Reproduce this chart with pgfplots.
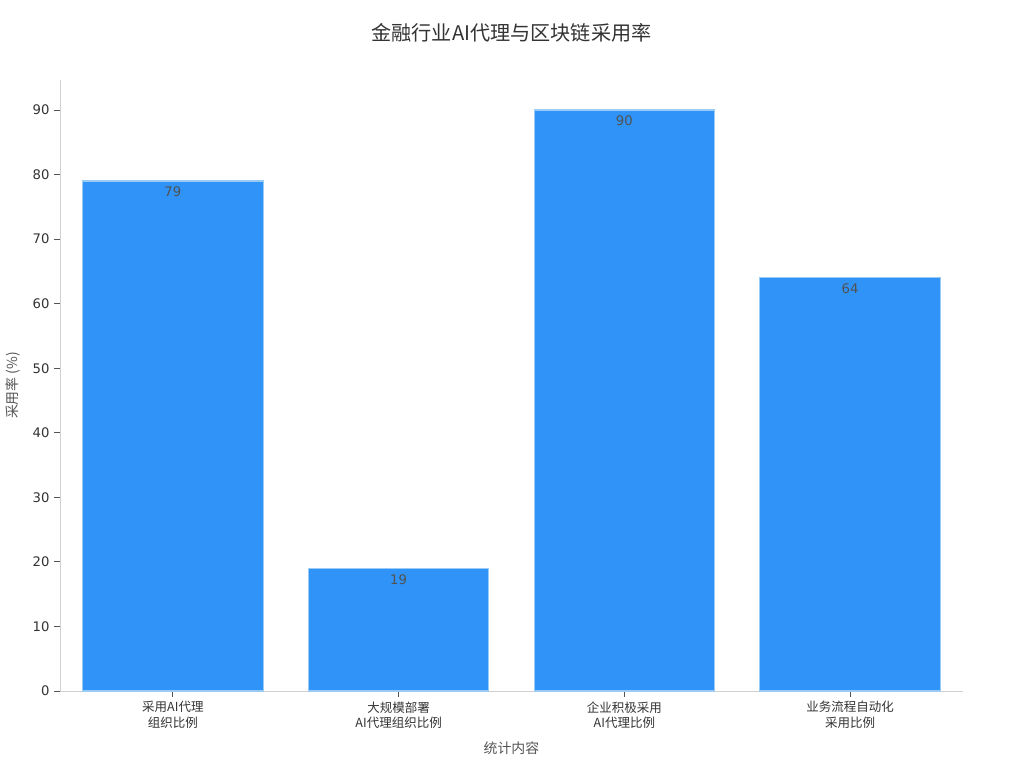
\documentclass[border=0pt]{standalone}
\usepackage{pgfplots}
\pgfplotsset{compat=1.18}
\usepackage{fontspec}
\setmainfont{DejaVu Sans}
\newfontfamily\cjk{Noto Sans CJK SC}
\definecolor{barblue}{HTML}{2F93F8}
\definecolor{baredge}{HTML}{9ACBF7}
\definecolor{axisgray}{HTML}{D0D0D0}
\definecolor{txt}{HTML}{333333}
\definecolor{lbl}{HTML}{555555}
\begin{document}
\begin{tikzpicture}
\path[use as bounding box] (0,0) rectangle (737.28pt,552.96pt);
\begin{axis}[
  at={(43.2pt,55.44pt)}, anchor=south west,
  scale only axis, width=650.16pt, height=439.92pt,
  xmin=-0.5, xmax=3.5, ymin=0, ymax=94.65,
  ybar, bar width=0.8, bar shift=0pt,
  axis x line*=bottom, axis y line*=left,
  axis line style={axisgray, line width=0.7pt},
  x axis line style={-}, y axis line style={-},
  xtick={0,1,2,3},
  xticklabels={{\cjk 采用AI代理\\\cjk 组织比例},{\cjk 大规模部署\\\cjk AI代理组织比例},{\cjk 企业积极采用\\\cjk AI代理比例},{\cjk 业务流程自动化\\\cjk 采用比例}},
  xticklabel style={align=center, font=\fontsize{9}{11}\selectfont, text=txt},
  ytick={0,10,...,90},
  yticklabel style={font=\fontsize{9.5}{12}\selectfont, text=txt},
  /pgf/number format/assume math mode=true,
  tick style={lbl, line width=0.7pt},
  tick align=outside, major tick length=4pt,
  xlabel={\cjk 统计内容}, ylabel={\cjk 采用率 (\%)},
  xlabel style={font=\fontsize{10}{12}\selectfont, text=lbl, yshift=-3pt},
  ylabel style={font=\fontsize{10}{12}\selectfont, text=lbl, yshift=2pt},
  title={\cjk 金融行业AI代理与区块链采用率},
  title style={font=\fontsize{14.5}{17}\selectfont, text=txt, yshift=18pt},
  nodes near coords,
  every node near coord/.append style={anchor=north, inner sep=0pt, yshift=-4pt, font=\fontsize{9.5}{12}\selectfont, text=txt!85!white},
  clip=false,
]
\addplot[fill=barblue, draw=baredge, line width=0.8pt] coordinates {(0,79) (1,19) (2,90) (3,64)};
\end{axis}
\end{tikzpicture}
\end{document}
